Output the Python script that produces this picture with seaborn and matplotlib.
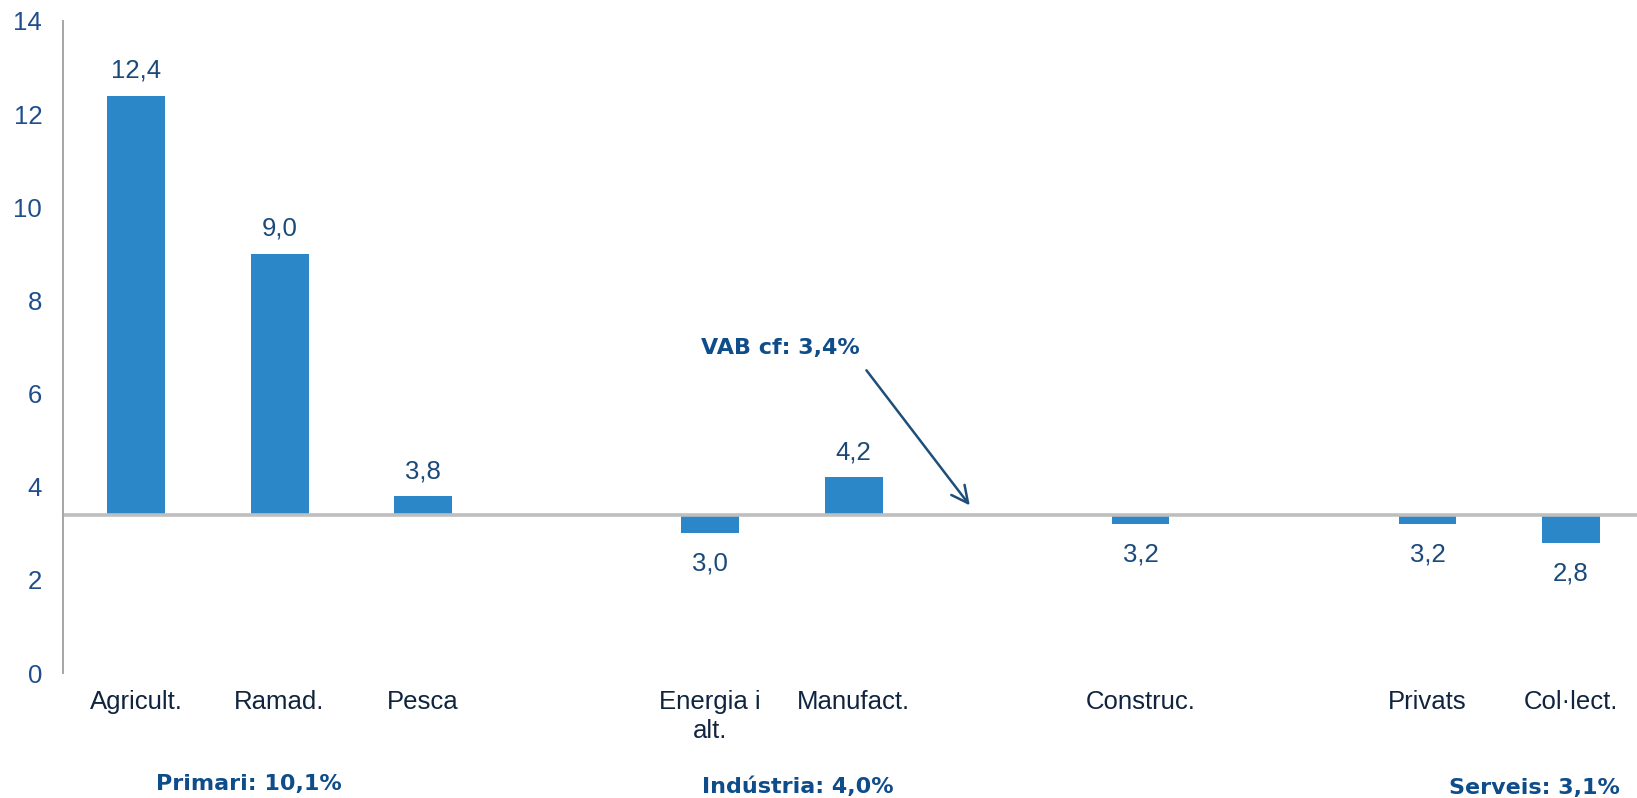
import matplotlib
matplotlib.use("Agg")
import matplotlib.pyplot as plt
import seaborn as sns
import pandas as pd

# ---------------- data ----------------
categories = ["Agricult.", "Ramad.", "Pesca", "Energia i\nalt.", "Manufact.",
              "Construc.", "Privats", "Col·lect."]
values = [12.4, 9.0, 3.8, 3.0, 4.2, 3.2, 3.2, 2.8]
vab_cf = 3.4
annotation_label = "VAB cf: 3,4%"
group_labels = ["Primari: 10,1%", "Indústria: 4,0%", "Serveis: 3,1%"]
y_ticks = [0, 2, 4, 6, 8, 10, 12, 14]

# ---------------- layout ----------------
# category order on the axis, with empty spacer slots between sector groups
order = ["Agricult.", "Ramad.", "Pesca", " ", "Energia i\nalt.", "Manufact.",
         "  ", "Construc.", "   ", "Privats", "Col·lect."]

BAR = "#2B87C8"
VAL_COL = "#1B4A7A"
YT_COL = "#1F4E8C"
CAT_COL = "#10243F"
GRP_COL = "#0F4C8A"

sns.set_theme(style="white")
plt.rcParams["font.family"] = ["Liberation Sans", "DejaVu Sans"]

fig = plt.figure(figsize=(16.37, 7.98), dpi=100)
ax = fig.add_axes([0.0385, 0.1566, 0.9615, 0.8171])

df = pd.DataFrame({"cat": categories, "val": values})
df["delta"] = df["val"] - vab_cf

sns.barplot(data=df, x="cat", y="delta", order=order, width=0.404,
            color=BAR, saturation=1, errorbar=None, bottom=vab_cf,
            linewidth=0, ax=ax)

# baseline at VAB cf
ax.axhline(vab_cf, color="#BEBEBE", lw=2.6, zorder=1)

# value labels
for c, v in zip(categories, values):
    p = order.index(c)
    txt = f"{v:.1f}".replace(".", ",")
    off = 18 if v >= vab_cf else -22
    ax.annotate(txt, xy=(p, v), xytext=(0, off), textcoords="offset points",
                ha="center", va="center", fontsize=18.5, color=VAL_COL)

ax.set_xlim(-0.509, 10.46)
ax.set_ylim(0, 14)
ax.set_yticks(y_ticks)
ax.set_yticklabels([str(t) for t in y_ticks], fontsize=18.5, color=YT_COL)
ax.set_xticks(range(len(order)))
ax.set_xticklabels([o.strip() for o in order], fontsize=18.5, color=CAT_COL,
                   linespacing=1.3, va="top")
ax.tick_params(axis="both", length=0)
ax.tick_params(axis="y", pad=15)
ax.tick_params(axis="x", pad=12)
ax.set_xlabel("")
ax.set_ylabel("")

for s in ["top", "right", "bottom"]:
    ax.spines[s].set_visible(False)
ax.spines["left"].set_color("#A6A6A6")
ax.spines["left"].set_linewidth(1.4)

# VAB cf annotation with arrow
ax.annotate("", xy=(5.81, 3.60), xytext=(5.09, 6.50),
            arrowprops=dict(arrowstyle="->,head_length=1.0,head_width=0.5",
                            color="#1F4E79", lw=1.8, shrinkA=0, shrinkB=0))
ax.text(4.49, 6.98, annotation_label, ha="center", va="center",
        fontsize=16, fontweight="bold", color=GRP_COL, family="DejaVu Sans")

# group labels below the axis
grp_xy = [(249, 784), (798, 787), (1534, 788)]
for lab, (px, py) in zip(group_labels, grp_xy):
    fig.text(px / 1637, 1 - py / 798, lab, ha="center", va="center",
             fontsize=16, fontweight="bold", color=GRP_COL, family="DejaVu Sans")

fig.savefig("out.png", dpi=100)
